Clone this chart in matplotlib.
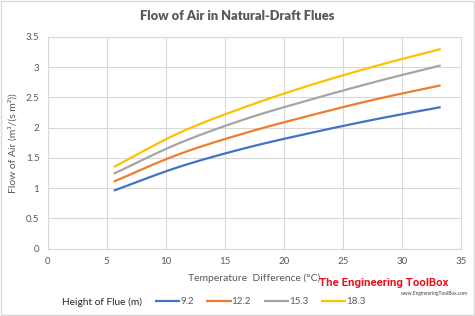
import numpy as np
import matplotlib
matplotlib.use("Agg")
import matplotlib.pyplot as plt
from matplotlib.patches import Rectangle

# -----------------------------
# Data
# -----------------------------
temp_diff = [5.6, 11.1, 16.7, 22.2, 27.8, 33.3]   # degC
heights = ["9.2", "12.2", "15.3", "18.3"]         # m
flow_9_2 = [0.96, 1.35, 1.66, 1.91, 2.14, 2.34]
flow_12_2 = [1.11, 1.56, 1.91, 2.20, 2.47, 2.70]
flow_15_3 = [1.24, 1.74, 2.14, 2.46, 2.76, 3.03]
flow_18_3 = [1.35, 1.91, 2.34, 2.70, 3.02, 3.30]
series = [flow_9_2, flow_12_2, flow_15_3, flow_18_3]
colors = ["#4472C4", "#ED7D31", "#A5A5A5", "#FFC000"]


def smooth(x, y, n=20):
    """Catmull-Rom through the points, like Excel's smoothed line"""
    x = np.asarray(x, float)
    y = np.asarray(y, float)
    px = np.concatenate([[2 * x[0] - x[1]], x, [2 * x[-1] - x[-2]]])
    py = np.concatenate([[2 * y[0] - y[1]], y, [2 * y[-1] - y[-2]]])
    xs, ys = [], []
    t = np.linspace(0, 1, n, endpoint=False)
    for i in range(1, len(px) - 2):
        for p, out in ((px, xs), (py, ys)):
            p0, p1, p2, p3 = p[i - 1], p[i], p[i + 1], p[i + 2]
            out.extend(0.5 * ((2 * p1) + (-p0 + p2) * t
                              + (2 * p0 - 5 * p1 + 4 * p2 - p3) * t ** 2
                              + (-p0 + 3 * p1 - 3 * p2 + p3) * t ** 3))
    xs.append(x[-1])
    ys.append(y[-1])
    return np.array(xs), np.array(ys)


plt.rcParams['font.family'] = ['Lato', 'DejaVu Sans']
txt = "#595959"
grid = "#D9D9D9"

fig = plt.figure(figsize=(4.75, 3.16), dpi=100)
ax = fig.add_axes([0.1004, 0.213, 0.8696, 0.670])

lines = []
for vals, c, h in zip(series, colors, heights):
    sx, sy = smooth(temp_diff, vals)
    ln, = ax.plot(sx, sy, color=c, lw=1.6, solid_capstyle='butt', label=h)
    lines.append(ln)

ax.set_xlim(0, 35)
ax.set_ylim(0, 3.5)
ax.set_xticks(np.arange(0, 36, 5))
ax.set_yticks(np.arange(0, 3.51, 0.5))
ax.set_yticklabels([f"{v:g}" for v in np.arange(0, 3.51, 0.5)])
ax.grid(True, color=grid, lw=0.8)
ax.set_axisbelow(True)
for s in ax.spines.values():
    s.set_color(grid)
    s.set_linewidth(0.8)
ax.tick_params(length=0, labelsize=7, colors=txt, pad=6)

ax.set_xlabel("Temperature  Difference (\u00b0C)", fontsize=7.5, color=txt, labelpad=5)
ax.set_ylabel("Flow of Air (m\u00b3/(s m\u00b2))", fontsize=7.5, color=txt, labelpad=6)

fig.text(0.5, 0.948, "Flow of Air in Natural-Draft Flues", ha='center', va='center',
         fontsize=9.3, fontweight='heavy', color=txt)

# legend at the bottom
fig.text(62 / 475, 1 - 302 / 316, "Height of Flue (m)", ha='left', va='center',
         fontsize=7.3, color="#262626")
leg = fig.legend(lines, heights, loc='center left', bbox_to_anchor=(146 / 475, 1 - 302 / 316),
                 ncol=4, frameon=False, fontsize=7, handlelength=2.6, handletextpad=0.0,
                 columnspacing=1.3, labelcolor=txt)

# watermark
fig.text(384 / 475, 1 - 283 / 316, "The Engineering ToolBox", ha='center', va='center',
         fontsize=8.2, fontweight='bold', color="#E8141C", family='Roboto')
fig.text(468 / 475, 1 - 291 / 316, "www.EngineeringToolBox.com", ha='right', va='top',
         fontsize=3.5, color="#404040")

# chart border
fig.patches.append(Rectangle((0.002, 0.003), 0.996, 0.994, transform=fig.transFigure,
                             fill=False, edgecolor="#D9D9D9", lw=1))

fig.savefig("out.png", dpi=100)
